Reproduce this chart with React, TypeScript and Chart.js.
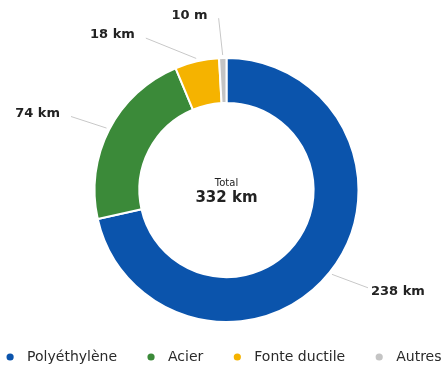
import React, { useEffect, useRef } from "react";
import { Chart, registerables } from "chart.js";

Chart.register(...registerables);

const categories = ["Polyéthylène", "Acier", "Fonte ductile", "Autres"];
const lengthsKm = [238, 74, 18, 3];
const valueLabels = ["238 km", "74 km", "18 km", "10 m"];
const sliceColors = ["#0b54ac", "#3b8a39", "#f5b300", "#c4c4c4"];
const totalTitle = "Total";
const totalValue = "332 km";

const FONT = "'DejaVu Sans', 'Noto Sans', sans-serif";

const labelPlugin = {
  id: "outerLabels",
  afterDatasetsDraw(chart: any, _args: any, opts: any) {
    const ctx = chart.ctx;
    const meta = chart.getDatasetMeta(0);
    const shifts: number[] = opts.angleShift || [];
    ctx.save();
    meta.data.forEach((arc: any, i: number) => {
      const p = arc.getProps(["x", "y", "startAngle", "endAngle", "outerRadius"], true);
      const mid = (p.startAngle + p.endAngle) / 2;
      const shifted = mid + ((shifts[i] || 0) * Math.PI) / 180;
      const r0 = p.outerRadius + 3;
      const r1 = opts.anchorRadius;
      const sx = p.x + Math.cos(mid) * r0;
      const sy = p.y + Math.sin(mid) * r0;
      const ex = p.x + Math.cos(shifted) * r1;
      const ey = p.y + Math.sin(shifted) * r1;
      ctx.strokeStyle = "#c8c8c8";
      ctx.lineWidth = 1;
      ctx.beginPath();
      ctx.moveTo(sx, sy);
      ctx.lineTo(ex, ey);
      ctx.stroke();
      const right = Math.cos(shifted) >= 0;
      ctx.font = `bold 13px ${FONT}`;
      ctx.fillStyle = "#222";
      ctx.textBaseline = "middle";
      ctx.textAlign = right ? "left" : "right";
      ctx.fillText(valueLabels[i], ex + (right ? 3 : -11), ey + (right ? 4 : -3));
    });
    // centre text
    const a = meta.data[0];
    const cx = a.x;
    const cy = a.y;
    ctx.textAlign = "center";
    ctx.textBaseline = "middle";
    ctx.fillStyle = "#222";
    ctx.font = `10px ${FONT}`;
    ctx.fillText(totalTitle, cx, cy - 7);
    ctx.font = `bold 15px ${FONT}`;
    ctx.fillText(totalValue, cx, cy + 8);
    ctx.restore();
  },
};

const legendPlugin = {
  id: "bottomLegend",
  afterDraw(chart: any, _args: any, opts: any) {
    const ctx = chart.ctx;
    const labels: string[] = chart.data.labels;
    const colors: string[] = chart.data.datasets[0].backgroundColor;
    ctx.save();
    ctx.font = `14px ${FONT}`;
    const dotR = 3.6;
    const textGap = opts.textGap;
    const itemGap = opts.itemGap;
    const widths = labels.map((l) => ctx.measureText(l).width);
    const total =
      widths.reduce((s, w) => s + w + textGap, 0) + itemGap * (labels.length - 1) + dotR;
    let x = (chart.width - total) / 2 + dotR + 2;
    const y = opts.y;
    labels.forEach((l, i) => {
      ctx.fillStyle = colors[i];
      ctx.beginPath();
      ctx.arc(x, y, dotR, 0, Math.PI * 2);
      ctx.fill();
      ctx.fillStyle = "#2a2a2a";
      ctx.textAlign = "left";
      ctx.textBaseline = "middle";
      ctx.fillText(l, x + textGap, y);
      x += textGap + widths[i] + itemGap;
    });
    ctx.restore();
  },
};

export default function App() {
  const ref = useRef<HTMLCanvasElement>(null);
  useEffect(() => {
    if (!ref.current) return;
    const chart = new Chart(ref.current, {
      type: "doughnut",
      data: {
        labels: categories,
        datasets: [
          {
            data: lengthsKm,
            backgroundColor: sliceColors,
            borderColor: "#ffffff",
            borderWidth: 2,
          },
        ],
      },
      options: {
        responsive: false,
        animation: false,
        radius: 132,
        cutout: "66%",
        layout: { padding: { top: 50, bottom: 44, left: 9, right: 0 } },
        plugins: {
          legend: { display: false },
          tooltip: { enabled: false },
          outerLabels: { anchorRadius: 172, angleShift: [-4, -2, -15, -1] },
          bottomLegend: { y: 357, textGap: 17, itemGap: 34 },
        } as any,
      },
      plugins: [labelPlugin, legendPlugin],
    });
    return () => chart.destroy();
  }, []);
  return (
    <div style={{ position: "fixed", left: 0, top: 0, width: 444, height: 374, background: "#fff" }}>
      <canvas ref={ref} width={444} height={374} style={{ display: "block" }} />
    </div>
  );
}
